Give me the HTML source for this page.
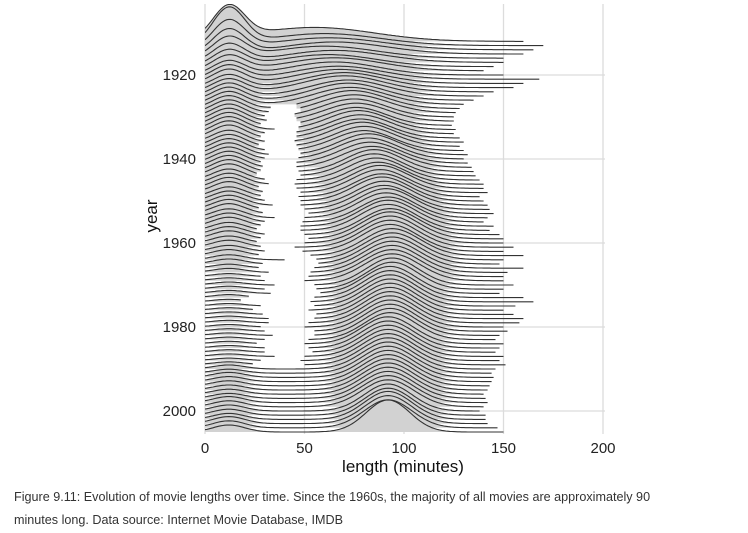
<!DOCTYPE html>
<html><head><meta charset="utf-8"><style>
body{margin:0;background:#fff;width:748px;height:533px;overflow:hidden;font-family:"Liberation Sans",sans-serif}
svg{position:absolute;left:0;top:0}
.cap{position:absolute;left:14px;font-size:12.6px;color:#333;line-height:23px;white-space:nowrap}
</style></head><body>
<svg id="chart" width="748" height="533">
<defs><clipPath id="pc"><rect x="205" y="4" width="400" height="430"/></clipPath></defs>
<g id="grid"></g>
<g id="ridges" clip-path="url(#pc)"></g>
<g id="axes"></g>
<text x="403" y="472" text-anchor="middle" font-size="17" fill="#111">length (minutes)</text>
<text transform="translate(157,216) rotate(-90)" text-anchor="middle" font-size="17" fill="#111">year</text>
</svg>
<div class="cap" style="top:486px">Figure 9.11: Evolution of movie lengths over time. Since the 1960s, the majority of all movies are approximately 90<br>minutes long. Data source: Internet Movie Database, IMDB</div>
<script>
const firstYear = 1912;
const featMean = [55,60,62,65,60,65,62,65,
 65,67,68,70,70,72,72,73,74,75,
 75,76,76,77,78,78,79,80,80,82,
 82,83,84,85,85,86,87,88,88,89,
 89,90,90,91,91,92,92,92,93,93,
 93,93,93,94,94,94,94,94,94,94,
 94,94,93,93,93,93,93,93,93,93,
 93,93,93,93,92,92,92,92,92,92,
 92,92,92,92,92,92,92,92,92,92,
 92,92,92,92,92,92];
const featSd = [30,28,28,26,26,25,24,24,
 22,22,21,20,20,19,18,18,17,17,
 16,16,15,15,15,15,15,15,15,15,
 15,15,15,14,14,14,14,14,14,14,
 14,14,14,14,14,14,14,14,14,14,
 14,14,14,14,14,14,14,14,14,14,
 13,13,13,13,13,13,13,13,13,13,
 13,13,13,13,13,13,13,13,13,13,
 13,13,13,13,13,13,13,13,13,13,
 12,12,12,12,12,11];
const featH = [14,12,12,12,12,12,12,13,
 13,13,14,15,16,16,17,17,18,18,
 18,18,18,19,19,19,20,20,20,21,
 21,21,21,22,22,22,22,23,23,23,
 24,24,24,25,25,25,26,26,26,27,
 27,27,27,27,27,27,27,27,27,27,
 27,27,27,27,27,27,27,27,27,27,
 27,27,27,27,27,27,27,27,27,27,
 27,27,27,27,27,27,27,27,27,27,
 27,27,28,28,28,32];
const shortH = [32,36,28,24,20,18,16,15,
 14,14,14,13,13,13,13,13,13,13,
 13,13,13,13,13,13,12,12,12,12,
 12,12,12,12,12,11,11,11,11,10,
 10,10,10,10,9,9,9,8,8,8,
 7,7,6,6,5,5,4,4,3,3,
 3,3,3,3,2.5,2.5,2.5,2.5,2.5,2.5,
 2.5,2.5,2.5,2.5,2.5,2.5,2.5,2.5,2.5,3,
 4,4,5,5,5,5,5,5,6,6,
 6,6,6,7,7,7];
const shortEnd = [0,0,0,0,0,0,0,0,
 0,0,0,0,0,0,0,0,33,32,
 30,31,28,35,30,28,30,27,30,32,
 30,28,29,28,26,30,32,27,29,28,
 30,34,27,29,35,30,28,26,30,28,
 26,28,30,27,40,29,27,32,28,30,
 35,30,33,22,18,28,24,29,32,32,
 28,30,34,30,26,30,30,35,28,24,
 0,0,0,0,0,0,0,0,0,0,
 0,0,0,0,0,0];
const featStart = [0,0,0,0,0,0,0,0,
 0,0,0,0,0,0,0,0,46,48,
 45,46,48,47,46,46,45,46,47,48,
 47,46,46,47,48,46,45,46,48,47,
 48,48,50,52,50,49,48,48,50,52,
 50,45,49,53,56,57,55,53,52,50,
 55,56,58,55,53,55,52,56,55,52,
 50,55,55,52,50,52,54,50,48,50,
 0,0,0,0,0,0,0,0,0,0,
 0,0,0,0,0,0];
const featEnd = [160,170,165,160,150,150,145,140,
 150,168,160,155,145,140,135,130,128,126,
 125,125,124,126,125,128,130,128,130,132,
 130,132,134,135,136,138,140,140,142,138,
 140,142,143,145,142,140,145,143,148,150,
 150,155,150,160,150,148,160,152,150,150,
 155,150,148,160,165,156,150,155,160,158,
 150,152,148,146,150,148,146,150,148,151,
 146,144,145,144,143,142,140,141,142,140,
 138,141,141,142,147,150];
const xTicks = [0,50,100,150,200];
const yTicks = [1920,1940,1960,1980,2000];

const NS="http://www.w3.org/2000/svg";
const x = v => 205 + v*1.99;
const yb = yr => 411 + (yr-2000)*4.2;
function mk(tag, attrs, parent){const e=document.createElementNS(NS,tag);for(const k in attrs)e.setAttribute(k,attrs[k]);parent.appendChild(e);return e;}
const grid=document.getElementById('grid'), axes=document.getElementById('axes'), rg=document.getElementById('ridges');
xTicks.forEach(t=>{
  const l=mk('line',{x1:x(t),x2:x(t),y1:4,y2:434,stroke:'#dcdcdc','stroke-width':1.3},grid);
  
  
  const tx=mk('text',{x:x(t),y:453,'text-anchor':'middle','font-size':15,fill:'#222'},axes);
  tx.textContent=t;
  
  
});
yTicks.forEach(t=>{
  const l=mk('line',{x1:205,x2:605,y1:yb(t),y2:yb(t),stroke:'#dcdcdc','stroke-width':1.3},grid);
  
  
  const tx=mk('text',{x:196,y:yb(t)+5,'text-anchor':'end','font-size':15,fill:'#222'},axes);
  tx.textContent=t;
  
  
});
function dens(i,v){
  const s=shortH[i]*Math.exp(-Math.pow(v-12,2)/(2*8*8));
  const f=featH[i]*Math.exp(-Math.pow(v-featMean[i],2)/(2*featSd[i]*featSd[i]));
  return s+f;
}
function seg(i,a,b,yr){
  const base=yb(yr);let top=[];
  for(let v=a;v<=b+0.001;v+=1){top.push([x(v),base-dens(i,v)]);}
  const fillD='M'+x(a)+','+base+' '+top.map(p=>'L'+p[0].toFixed(1)+','+p[1].toFixed(1)).join(' ')+' L'+x(b)+','+base+'Z';
  const lineD='M'+top.map(p=>p[0].toFixed(1)+','+p[1].toFixed(1)).join(' L');
  const f=mk('path',{d:fillD,fill:'#d2d2d2',stroke:'none'},rg);
  
  
  const l=mk('path',{d:lineD,fill:'none',stroke:'#333','stroke-width':1.1},rg);
  
  
}
for(let i=0;i<featMean.length;i++){
  const yr=firstYear+i;
  if(featStart[i]>0){seg(i,0,shortEnd[i],yr);seg(i,featStart[i],featEnd[i],yr);}
  else seg(i,0,featEnd[i],yr);
}
</script>
</body></html>
